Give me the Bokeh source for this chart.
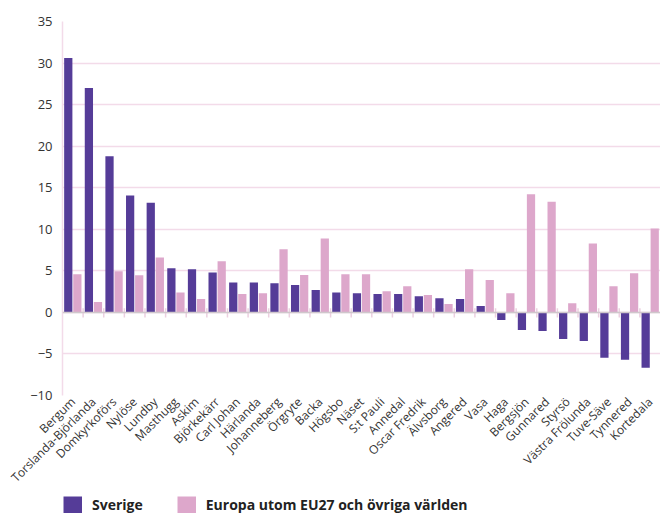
import math
from bokeh.plotting import figure
from bokeh.layouts import column
from bokeh.models import ColumnDataSource, FactorRange, Span, Range1d, Legend, LegendItem
from bokeh.transform import dodge
from bokeh.embed import file_html
from bokeh.resources import INLINE

categories = ["Bergum", "Torslanda-Björlanda", "Domkyrkoförs", "Nylöse", "Lundby", "Masthugg",
              "Askim", "Björkekärr", "Carl Johan", "Härlanda", "Johanneberg", "Örgryte", "Backa",
              "Högsbo", "Näset", "S:t Pauli", "Annedal", "Oscar Fredrik", "Älvsborg", "Angered",
              "Vasa", "Haga", "Bergsjön", "Gunnared", "Styrsö", "Västra Frölunda", "Tuve-Säve",
              "Tynnered", "Kortedala"]
sverige = [30.6, 27.0, 18.8, 14.05, 13.2, 5.3, 5.2, 4.8, 3.6, 3.6, 3.5, 3.3, 2.7,
           2.4, 2.3, 2.2, 2.2, 1.95, 1.7, 1.6, 0.76, -0.92, -2.12, -2.24, -3.2, -3.44,
           -5.47, -5.7, -6.67]
europa = [4.6, 1.24, 4.95, 4.47, 6.6, 2.4, 1.6, 6.15, 2.2, 2.3, 7.6, 4.5, 8.9,
          4.6, 4.6, 2.55, 3.15, 2.08, 1.0, 5.2, 3.9, 2.3, 14.2, 13.3, 1.1, 8.3,
          3.15, 4.7, 10.1]
series_names = ["Sverige", "Europa utom EU27 och övriga världen"]
y_ticks = [-10, -5, 0, 5, 10, 15, 20, 25, 30, 35]

DARK = "#553c98"
PINK = "#dda7cb"
GRID = "#f3dbe9"
FONT = "Open Sans"

src = ColumnDataSource(dict(cat=categories, sverige=sverige, europa=europa))

p = figure(x_range=FactorRange(*categories, range_padding=0), y_range=Range1d(-10, 35),
           width=660, height=495, output_backend="svg", toolbar_location=None,
           min_border_left=62, min_border_top=21, min_border_right=0, min_border_bottom=100)

r1 = p.vbar(x=dodge("cat", -0.22, range=p.x_range), top="sverige", width=0.40, source=src,
            fill_color=DARK, line_color=None)
r2 = p.vbar(x=dodge("cat", 0.22, range=p.x_range), top="europa", width=0.40, source=src,
            fill_color=PINK, line_color=None)

# zero line and category-boundary ticks on it
p.add_layout(Span(location=0, dimension="width", line_color="#cfc8cc", line_width=1.5))
bounds = list(range(1, len(categories)))
p.segment(x0=bounds, x1=bounds, y0=[-0.6] * len(bounds), y1=[0.5] * len(bounds),
          line_color="#ecd0e0", line_width=1.5)

p.outline_line_color = None
p.xgrid.grid_line_color = None
p.ygrid.grid_line_color = GRID
p.ygrid.grid_line_width = 1.5
p.ygrid.ticker = y_ticks

p.yaxis.ticker = y_ticks
p.yaxis.axis_line_color = GRID
p.yaxis.axis_line_width = 1.5
p.yaxis.major_tick_line_color = None
p.yaxis.minor_tick_line_color = None
p.yaxis.major_tick_out = 0
p.yaxis.major_tick_in = 0
p.yaxis.major_label_text_font = FONT
p.yaxis.major_label_text_font_size = "13px"
p.yaxis.major_label_text_color = "#333333"
p.yaxis.major_label_standoff = 10

p.xaxis.axis_line_color = None
p.xaxis.major_tick_line_color = None
p.xaxis.minor_tick_line_color = None
p.xaxis.major_tick_out = 0
p.xaxis.major_tick_in = 0
p.xaxis.major_label_orientation = math.pi / 4
p.xaxis.major_label_text_font = FONT
p.xaxis.major_label_text_font_size = "12px"
p.xaxis.major_label_text_color = "#333333"
p.xaxis.major_label_standoff = 4

# legend strip below the chart (proxy renderers carry only the series styles)
lg = figure(width=660, height=19, output_backend="svg", toolbar_location=None,
            x_axis_location=None, y_axis_location=None, min_border=0,
            x_range=Range1d(0, 1), y_range=Range1d(0, 1))
lg.outline_line_color = None
lg.grid.grid_line_color = None
proxy = ColumnDataSource(dict(x=[float("nan")], y=[float("nan")]))
l1 = lg.line(x="x", y="y", source=proxy, line_color=DARK, line_width=17, line_cap="butt")
l2 = lg.line(x="x", y="y", source=proxy, line_color=PINK, line_width=17, line_cap="butt")

legend = Legend(items=[LegendItem(label=series_names[0], renderers=[l1]),
                       LegendItem(label=series_names[1], renderers=[l2])],
                orientation="horizontal", location=(1, 0),
                glyph_width=19, glyph_height=17, label_standoff=10, spacing=34,
                label_height=19,
                padding=0, margin=0, border_line_color=None, background_fill_alpha=0,
                label_text_font=FONT, label_text_font_size="14px",
                label_text_font_style="bold", label_text_color="#222222")
lg.add_layout(legend, "center")

layout = column(p, lg, spacing=0)
open("out.html", "w").write(file_html(layout, INLINE))
